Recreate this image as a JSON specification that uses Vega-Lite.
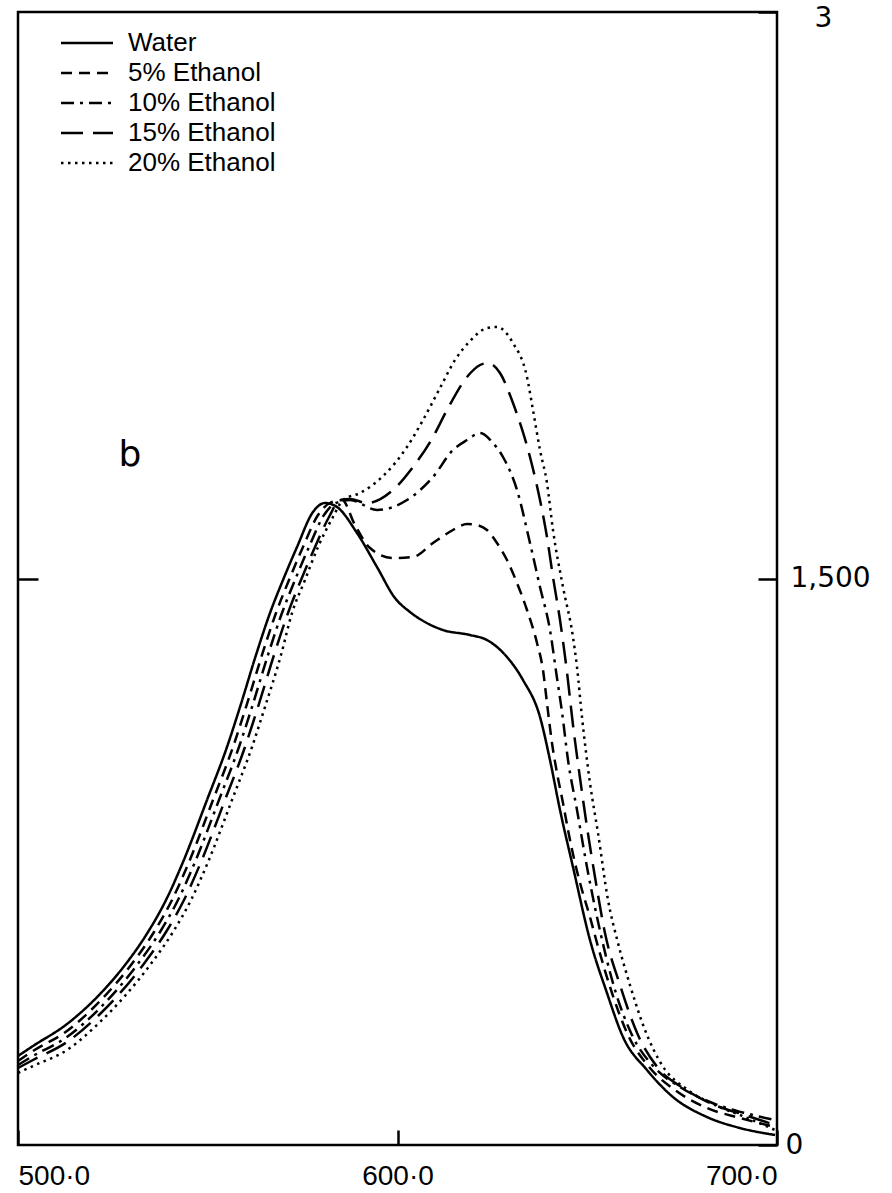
{
  "$schema": "https://vega.github.io/schema/vega-lite/v6.json",
  "width": 759,
  "height": 1133,
  "autosize": "none",
  "padding": {"left": 18, "top": 12, "right": 115, "bottom": 48},
  "background": "white",
  "config": {
    "view": {"stroke": "black", "strokeWidth": 2.5},
    "axis": {"domain": false, "grid": false, "tickColor": "black", "tickWidth": 2.5, "labelColor": "black", "labelFont": "Liberation Sans", "title": null},
    "legend": {"labelFont": "Liberation Sans", "labelColor": "black"}
  },
  "datasets": {
    "curves": [
      {"s":"Water","w":500,"v":235.7},{"s":"Water","w":503.95,"v":262.1},{"s":"Water","w":512.91,"v":320.4},{"s":"Water","w":521.61,"v":399.8},{"s":"Water","w":528.19,"v":476.6},{"s":"Water","w":534.26,"v":564},{"s":"Water","w":539,"v":648.7},{"s":"Water","w":543.48,"v":749.3},{"s":"Water","w":549.8,"v":913.5},{"s":"Water","w":555.07,"v":1053.8},{"s":"Water","w":558.5,"v":1159.7},{"s":"Water","w":562.71,"v":1297.4},{"s":"Water","w":566.4,"v":1408.6},{"s":"Water","w":569.83,"v":1496},{"s":"Water","w":573.52,"v":1583.4},{"s":"Water","w":577.73,"v":1676.1},{"s":"Water","w":580.89,"v":1699.9},{"s":"Water","w":584.06,"v":1689.3},{"s":"Water","w":589.33,"v":1620.5},{"s":"Water","w":594.6,"v":1530.4},{"s":"Water","w":599.34,"v":1448.3},{"s":"Water","w":603.29,"v":1411.3},{"s":"Water","w":607.24,"v":1384.8},{"s":"Water","w":611.99,"v":1363.6},{"s":"Water","w":619.1,"v":1350.4},{"s":"Water","w":623.58,"v":1337.1},{"s":"Water","w":628.85,"v":1292.1},{"s":"Water","w":633.07,"v":1231.2},{"s":"Water","w":637.55,"v":1133.3},{"s":"Water","w":640.18,"v":1019.4},{"s":"Water","w":642.82,"v":887},{"s":"Water","w":646.24,"v":736.1},{"s":"Water","w":650.72,"v":542.8},{"s":"Water","w":655.2,"v":402.5},{"s":"Water","w":659.42,"v":286},{"s":"Water","w":665.74,"v":198.6},{"s":"Water","w":672.59,"v":127.1},{"s":"Water","w":681.55,"v":74.1},{"s":"Water","w":690.25,"v":45},{"s":"Water","w":699.5,"v":26.5},

      {"s":"5% Ethanol","w":500,"v":222.4},{"s":"5% Ethanol","w":503.95,"v":248.9},{"s":"5% Ethanol","w":512.91,"v":301.9},{"s":"5% Ethanol","w":521.61,"v":381.3},{"s":"5% Ethanol","w":529.78,"v":476.6},{"s":"5% Ethanol","w":535.84,"v":564},{"s":"5% Ethanol","w":540.58,"v":648.7},{"s":"5% Ethanol","w":545.06,"v":749.3},{"s":"5% Ethanol","w":551.38,"v":913.5},{"s":"5% Ethanol","w":556.65,"v":1053.8},{"s":"5% Ethanol","w":560.08,"v":1159.7},{"s":"5% Ethanol","w":564.29,"v":1297.4},{"s":"5% Ethanol","w":567.98,"v":1408.6},{"s":"5% Ethanol","w":571.41,"v":1496},{"s":"5% Ethanol","w":575.1,"v":1583.4},{"s":"5% Ethanol","w":579.05,"v":1668.1},{"s":"5% Ethanol","w":582.21,"v":1699.9},{"s":"5% Ethanol","w":585.37,"v":1707.8},{"s":"5% Ethanol","w":588.8,"v":1641.6},{"s":"5% Ethanol","w":592.75,"v":1580.7},{"s":"5% Ethanol","w":598.81,"v":1554.3},{"s":"5% Ethanol","w":604.08,"v":1556.9},{"s":"5% Ethanol","w":609.35,"v":1594},{"s":"5% Ethanol","w":614.62,"v":1628.4},{"s":"5% Ethanol","w":618.31,"v":1644.3},{"s":"5% Ethanol","w":620.95,"v":1641.6},{"s":"5% Ethanol","w":623.58,"v":1628.4},{"s":"5% Ethanol","w":626.22,"v":1594},{"s":"5% Ethanol","w":628.85,"v":1549},{"s":"5% Ethanol","w":631.49,"v":1488.1},{"s":"5% Ethanol","w":634.12,"v":1416.6},{"s":"5% Ethanol","w":636.76,"v":1329.2},{"s":"5% Ethanol","w":638.34,"v":1257.7},{"s":"5% Ethanol","w":639.39,"v":1170.3},{"s":"5% Ethanol","w":640.71,"v":1064.4},{"s":"5% Ethanol","w":642.03,"v":985},{"s":"5% Ethanol","w":643.61,"v":905.6},{"s":"5% Ethanol","w":644.93,"v":834.1},{"s":"5% Ethanol","w":646.77,"v":746.7},{"s":"5% Ethanol","w":648.61,"v":675.2},{"s":"5% Ethanol","w":650.72,"v":603.7},{"s":"5% Ethanol","w":652.57,"v":534.9},{"s":"5% Ethanol","w":656.52,"v":402.5},{"s":"5% Ethanol","w":660.74,"v":291.3},{"s":"5% Ethanol","w":666.53,"v":203.9},{"s":"5% Ethanol","w":673.12,"v":145.6},{"s":"5% Ethanol","w":681.55,"v":98},{"s":"5% Ethanol","w":690.25,"v":71.5},{"s":"5% Ethanol","w":699.5,"v":47.7},

      {"s":"10% Ethanol","w":500,"v":211.8},{"s":"10% Ethanol","w":503.95,"v":235.7},{"s":"10% Ethanol","w":512.91,"v":286},{"s":"10% Ethanol","w":521.61,"v":362.7},{"s":"10% Ethanol","w":531.36,"v":476.6},{"s":"10% Ethanol","w":537.42,"v":564},{"s":"10% Ethanol","w":542.16,"v":648.7},{"s":"10% Ethanol","w":546.64,"v":749.3},{"s":"10% Ethanol","w":552.96,"v":913.5},{"s":"10% Ethanol","w":558.23,"v":1053.8},{"s":"10% Ethanol","w":561.66,"v":1159.7},{"s":"10% Ethanol","w":565.87,"v":1297.4},{"s":"10% Ethanol","w":569.56,"v":1408.6},{"s":"10% Ethanol","w":572.99,"v":1496},{"s":"10% Ethanol","w":576.68,"v":1583.4},{"s":"10% Ethanol","w":580.63,"v":1668.1},{"s":"10% Ethanol","w":583.79,"v":1699.9},{"s":"10% Ethanol","w":587.48,"v":1707.8},{"s":"10% Ethanol","w":594.6,"v":1681.4},{"s":"10% Ethanol","w":602.5,"v":1707.8},{"s":"10% Ethanol","w":609.35,"v":1768.7},{"s":"10% Ethanol","w":614.62,"v":1840.2},{"s":"10% Ethanol","w":618.31,"v":1866.7},{"s":"10% Ethanol","w":621.74,"v":1885.2},{"s":"10% Ethanol","w":625.16,"v":1858.8},{"s":"10% Ethanol","w":627.8,"v":1821.7},{"s":"10% Ethanol","w":631.49,"v":1734.3},{"s":"10% Ethanol","w":634.91,"v":1594},{"s":"10% Ethanol","w":637.55,"v":1477.5},{"s":"10% Ethanol","w":640.18,"v":1363.6},{"s":"10% Ethanol","w":642.03,"v":1236.5},{"s":"10% Ethanol","w":643.35,"v":1146.5},{"s":"10% Ethanol","w":644.93,"v":1019.4},{"s":"10% Ethanol","w":647.3,"v":887},{"s":"10% Ethanol","w":649.93,"v":736.1},{"s":"10% Ethanol","w":652.57,"v":603.7},{"s":"10% Ethanol","w":657.31,"v":410.4},{"s":"10% Ethanol","w":661.79,"v":291.3},{"s":"10% Ethanol","w":667.85,"v":203.9},{"s":"10% Ethanol","w":674.44,"v":153.6},{"s":"10% Ethanol","w":682.34,"v":113.9},{"s":"10% Ethanol","w":691.56,"v":84.7},{"s":"10% Ethanol","w":699.5,"v":66.2},

      {"s":"15% Ethanol","w":500,"v":203.9},{"s":"15% Ethanol","w":503.95,"v":225.1},{"s":"15% Ethanol","w":512.91,"v":272.7},{"s":"15% Ethanol","w":521.61,"v":346.9},{"s":"15% Ethanol","w":532.94,"v":476.6},{"s":"15% Ethanol","w":539,"v":564},{"s":"15% Ethanol","w":543.74,"v":648.7},{"s":"15% Ethanol","w":548.22,"v":749.3},{"s":"15% Ethanol","w":554.54,"v":913.5},{"s":"15% Ethanol","w":559.81,"v":1053.8},{"s":"15% Ethanol","w":563.24,"v":1159.7},{"s":"15% Ethanol","w":567.46,"v":1297.4},{"s":"15% Ethanol","w":571.15,"v":1408.6},{"s":"15% Ethanol","w":574.57,"v":1496},{"s":"15% Ethanol","w":578.26,"v":1583.4},{"s":"15% Ethanol","w":581.95,"v":1662.8},{"s":"15% Ethanol","w":584.85,"v":1707.8},{"s":"15% Ethanol","w":587.48,"v":1710.5},{"s":"15% Ethanol","w":591.96,"v":1699.9},{"s":"15% Ethanol","w":598.81,"v":1734.3},{"s":"15% Ethanol","w":604.08,"v":1795.2},{"s":"15% Ethanol","w":609.35,"v":1874.6},{"s":"15% Ethanol","w":613.04,"v":1946.1},{"s":"15% Ethanol","w":618.31,"v":2033.5},{"s":"15% Ethanol","w":621.74,"v":2065.3},{"s":"15% Ethanol","w":623.85,"v":2070.6},{"s":"15% Ethanol","w":627.01,"v":2044.1},{"s":"15% Ethanol","w":630.43,"v":1964.7},{"s":"15% Ethanol","w":634.91,"v":1821.7},{"s":"15% Ethanol","w":637.55,"v":1707.8},{"s":"15% Ethanol","w":639.39,"v":1609.9},{"s":"15% Ethanol","w":640.97,"v":1503.9},{"s":"15% Ethanol","w":642.82,"v":1390.1},{"s":"15% Ethanol","w":644.66,"v":1252.4},{"s":"15% Ethanol","w":646.24,"v":1112.1},{"s":"15% Ethanol","w":648.09,"v":971.7},{"s":"15% Ethanol","w":649.93,"v":842},{"s":"15% Ethanol","w":652.04,"v":709.6},{"s":"15% Ethanol","w":654.67,"v":561.3},{"s":"15% Ethanol","w":658.63,"v":423.6},{"s":"15% Ethanol","w":663.37,"v":291.3},{"s":"15% Ethanol","w":668.64,"v":203.9},{"s":"15% Ethanol","w":675.23,"v":150.9},{"s":"15% Ethanol","w":682.87,"v":108.6},{"s":"15% Ethanol","w":691.56,"v":79.4},{"s":"15% Ethanol","w":699.5,"v":53},

      {"s":"20% Ethanol","w":500,"v":190.6},{"s":"20% Ethanol","w":503.95,"v":209.2},{"s":"20% Ethanol","w":512.91,"v":251.5},{"s":"20% Ethanol","w":521.61,"v":325.7},{"s":"20% Ethanol","w":534.78,"v":476.6},{"s":"20% Ethanol","w":540.84,"v":564},{"s":"20% Ethanol","w":545.59,"v":648.7},{"s":"20% Ethanol","w":550.07,"v":749.3},{"s":"20% Ethanol","w":556.39,"v":913.5},{"s":"20% Ethanol","w":561.66,"v":1053.8},{"s":"20% Ethanol","w":565.08,"v":1159.7},{"s":"20% Ethanol","w":569.3,"v":1297.4},{"s":"20% Ethanol","w":572.2,"v":1408.6},{"s":"20% Ethanol","w":575.62,"v":1496},{"s":"20% Ethanol","w":579.05,"v":1583.4},{"s":"20% Ethanol","w":583,"v":1662.8},{"s":"20% Ethanol","w":585.64,"v":1707.8},{"s":"20% Ethanol","w":590.12,"v":1726.4},{"s":"20% Ethanol","w":596.18,"v":1771},{"s":"20% Ethanol","w":602.5,"v":1848.2},{"s":"20% Ethanol","w":606.72,"v":1919.7},{"s":"20% Ethanol","w":611.2,"v":2004.4},{"s":"20% Ethanol","w":615.15,"v":2078.5},{"s":"20% Ethanol","w":619.1,"v":2128.8},{"s":"20% Ethanol","w":623.58,"v":2163},{"s":"20% Ethanol","w":626.22,"v":2165.9},{"s":"20% Ethanol","w":630.43,"v":2123.5},{"s":"20% Ethanol","w":634.12,"v":2033.5},{"s":"20% Ethanol","w":635.7,"v":1946.1},{"s":"20% Ethanol","w":637.55,"v":1840.2},{"s":"20% Ethanol","w":639.39,"v":1752.8},{"s":"20% Ethanol","w":640.97,"v":1628.4},{"s":"20% Ethanol","w":643.61,"v":1477.5},{"s":"20% Ethanol","w":646.24,"v":1345.1},{"s":"20% Ethanol","w":647.3,"v":1265.6},{"s":"20% Ethanol","w":648.61,"v":1133.3},{"s":"20% Ethanol","w":650.72,"v":958.5},{"s":"20% Ethanol","w":652.83,"v":826.1},{"s":"20% Ethanol","w":655.47,"v":648.7},{"s":"20% Ethanol","w":658.1,"v":534.9},{"s":"20% Ethanol","w":661.26,"v":423.6},{"s":"20% Ethanol","w":665.21,"v":304.5},{"s":"20% Ethanol","w":669.69,"v":211.8},{"s":"20% Ethanol","w":676.55,"v":145.6},{"s":"20% Ethanol","w":683.66,"v":105.9},{"s":"20% Ethanol","w":691.56,"v":74.1},{"s":"20% Ethanol","w":699.5,"v":39.7}
    ],
    "annot": [{"w": 529.5, "v": 1827, "t": "b"}]
  },
  "layer": [
    {
      "data": {"name": "curves"},
      "mark": {"type": "line", "color": "black", "strokeWidth": 2.5, "interpolate": "monotone"},
      "encoding": {
        "x": {
          "field": "w", "type": "quantitative",
          "scale": {"domain": [500, 700], "nice": false, "zero": false},
          "axis": {"orient": "bottom", "values": [500, 600, 700], "labelExpr": "datum.value + '·0'", "tickSize": -15, "labelPadding": 32, "labelBaseline": "top", "labelFlush": true, "labelFontSize": 28}
        },
        "y": {
          "field": "v", "type": "quantitative",
          "scale": {"domain": [0, 3000], "nice": false},
          "axis": {"orient": "right", "values": [0, 1500, 3000], "labelExpr": "datum.value == 3000 ? '3' : (datum.value == 1500 ? '1,500' : '0')", "tickSize": -19, "labelAlign": "left", "labelBaseline": "middle", "labelFont": "DejaVu Sans", "labelFontSize": 28,
            "labelPadding": {"condition": [{"test": "datum.value == 3000", "value": 56}, {"test": "datum.value == 0", "value": 27}], "value": 32},
            "labelOffset": {"condition": {"test": "datum.value == 3000", "value": 6}, "value": 0}}
        },
        "strokeDash": {
          "field": "s", "type": "nominal",
          "scale": {"domain": ["Water", "5% Ethanol", "10% Ethanol", "15% Ethanol", "20% Ethanol"], "range": [[1, 0], [11, 7], [13, 6, 3, 6], [22, 10], [2.5, 4.5]]},
          "legend": {"orient": "none", "legendX": 56, "legendY": 18, "title": null, "symbolType": "M-2.6,0H2.6", "symbolSize": 400, "symbolStrokeWidth": 2.5, "symbolStrokeColor": "black", "symbolFillColor": "transparent", "labelFontSize": 26, "labelOffset": 28, "rowPadding": 4, "padding": 0,
            "labelExpr": "datum.label == 'Water' ? '\u00a0\u00a0\u00a0\u00a0Water' : datum.label"}
        }
      }
    },
    {
      "data": {"name": "annot"},
      "mark": {"type": "text", "font": "DejaVu Sans", "fontSize": 36, "color": "black"},
      "encoding": {
        "x": {"field": "w", "type": "quantitative", "scale": {"domain": [500, 700], "nice": false, "zero": false}},
        "y": {"field": "v", "type": "quantitative", "scale": {"domain": [0, 3000], "nice": false},
          "axis": {"orient": "left", "values": [1500], "labels": false, "tickSize": -20}},
        "text": {"field": "t"}
      }
    }
  ],
  "resolve": {"scale": {"y": "independent"}}
}
